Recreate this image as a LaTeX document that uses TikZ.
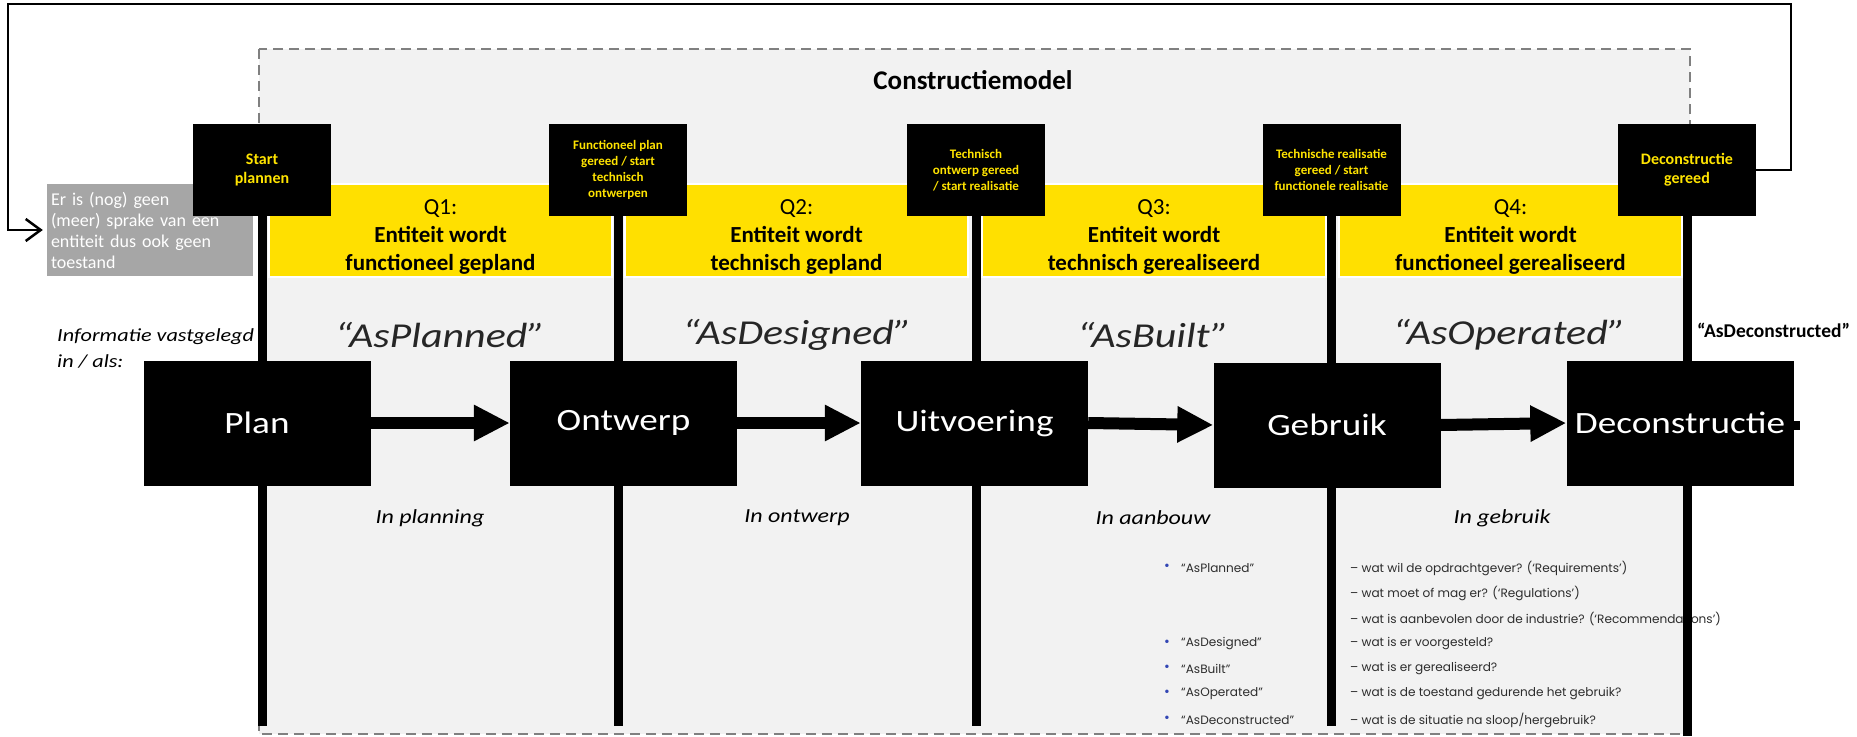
\documentclass[tikz,border=0pt]{standalone}
\usepackage{fontspec}
\setmainfont{Carlito}
\newfontfamily\stretchfont[FakeStretch=1.2]{Carlito}
\newfontfamily\listfont{Poppins}
\usetikzlibrary{arrows.meta}
\definecolor{bandyellow}{RGB}{255,224,0}
\definecolor{mstext}{RGB}{255,228,0}
\definecolor{panelgrey}{RGB}{242,242,242}
\definecolor{dashgrey}{RGB}{128,128,128}
\definecolor{infogrey}{RGB}{166,166,166}
\definecolor{bulletblue}{RGB}{50,70,180}
\definecolor{listgrey}{RGB}{45,45,45}
\begin{document}
\begin{tikzpicture}[x=1pt,y=-1pt,
  milestone/.style={fill=black, minimum width=138pt, minimum height=92pt, inner sep=0pt,
    text=mstext, align=center, font=\bfseries\fontsize{13}{16}\selectfont},
  milestonebig/.style={milestone, font=\bfseries\fontsize{16}{19}\selectfont},
  phasebox/.style={fill=black, minimum width=227pt, minimum height=125pt, inner sep=0pt,
    text=white, font=\stretchfont\fontsize{31}{36}\selectfont},
  band/.style={fill=bandyellow, draw=white, line width=2.5pt},
  bandtext/.style={align=center, inner sep=0pt, font=\fontsize{23}{28}\selectfont},
  timeline/.style={line width=9pt, draw=black},
  flowarrow/.style={line width=12pt, -{Triangle[length=36pt,width=34pt]}},
  aslabel/.style={inner sep=0pt, text=black!85, font=\stretchfont\itshape\fontsize{35}{40}\selectfont},
  statelabel/.style={inner sep=0pt, font=\stretchfont\itshape\fontsize{20}{24}\selectfont},
  infobox/.style={fill=infogrey, text=white, align=left, text width=198pt, inner sep=4pt,
    minimum height=92pt, font=\fontsize{18}{21}\selectfont},
  loopline/.style={line width=2.5pt, draw=black, -{Straight Barb[length=15pt,width=22pt]}, shorten >=4pt},
  listitem/.style={anchor=west, inner sep=0pt, text=listgrey, font=\listfont\fontsize{12.1}{15}\selectfont},
  bulletmark/.style={inner sep=0pt, text=bulletblue, font=\listfont\fontsize{14}{14}\selectfont}
]
\useasboundingbox (0,0) rectangle (1857,736);

% Panel
\draw[fill=panelgrey, draw=dashgrey, line width=2.5pt, dash pattern=on 10pt off 6pt]
  (259,49) rectangle (1690,734);
\node[font=\bfseries\fontsize{27}{32}\selectfont, inner sep=0pt] (title) at (973,80) {Constructiemodel};

% Yellow bands
\path[band] (269,184) rectangle (612,277);
\path[band] (625,184) rectangle (968,277);
\path[band] (982,184) rectangle (1326,277);
\path[band] (1339,184) rectangle (1682,277);
\node[bandtext] (q1) at (440.5,237) {Q1:\\\textbf{Entiteit wordt}\\\textbf{functioneel gepland}};
\node[bandtext] (q2) at (796.5,237) {Q2:\\\textbf{Entiteit wordt}\\\textbf{technisch gepland}};
\node[bandtext] (q3) at (1154,237) {Q3:\\\textbf{Entiteit wordt}\\\textbf{technisch gerealiseerd}};
\node[bandtext] (q4) at (1510.5,237) {Q4:\\\textbf{Entiteit wordt}\\\textbf{functioneel gerealiseerd}};

% Grey info box
\node[infobox] (info) at (150,230) {Er is (nog) geen\\(meer) sprake van een\\entiteit dus ook geen\\toestand};

% Bottom list (drawn before the time lines)
\node[bulletmark] (b1) at (1167,567) {•};
\node[bulletmark] (b2) at (1167,643) {•};
\node[bulletmark] (b3) at (1167,668) {•};
\node[bulletmark] (b4) at (1167,693) {•};
\node[bulletmark] (b5) at (1167,719) {•};
\node[listitem] (l1) at (1181,568) {“AsPlanned”};
\node[listitem] (l2) at (1181,644) {“AsDesigned”};
\node[listitem] (l3) at (1181,669) {“AsBuilt”};
\node[listitem] (l4) at (1181,694) {“AsOperated”};
\node[listitem] (l5) at (1181,720) {“AsDeconstructed”};
\node[listitem] (d1) at (1350,568) {– wat wil de opdrachtgever? (‘Requirements’)};
\node[listitem] (d2) at (1350,593) {– wat moet of mag er? (‘Regulations’)};
\node[listitem] (d3) at (1350,619) {– wat is aanbevolen door de industrie? (‘Recommendations’)};
\node[listitem] (d4) at (1350,644) {– wat is er voorgesteld?};
\node[listitem] (d5) at (1350,669) {– wat is er gerealiseerd?};
\node[listitem] (d6) at (1350,694) {– wat is de toestand gedurende het gebruik?};
\node[listitem] (d7) at (1350,720) {– wat is de situatie na sloop/hergebruik?};

% Milestone boxes
\node[milestonebig] (ms1) at (262,170) {Start\\plannen};
\node[milestone] (ms2) at (618,170) {Functioneel plan\\gereed / start\\technisch\\ontwerpen};
\node[milestone] (ms3) at (976,170) {Technisch\\ontwerp gereed\\/ start realisatie};
\node[milestone] (ms4) at (1331.5,170) {Technische realisatie\\gereed / start\\functionele realisatie};
\node[milestonebig] (ms5) at (1687,170) {Deconstructie\\gereed};

% Time lines
\coordinate (e1) at (262,726);
\coordinate (e2) at (618,726);
\coordinate (e3) at (976,726);
\coordinate (e4) at (1331.5,726);
\coordinate (e5) at (1687,736);
\draw[timeline] (ms1.south) -- (e1);
\draw[timeline] (ms2.south) -- (e2);
\draw[timeline] (ms3.south) -- (e3);
\draw[timeline] (ms4.south) -- (e4);
\draw[timeline] (ms5.south) -- (e5);

% Labels
\node[anchor=west, align=left, inner sep=0pt, font=\stretchfont\itshape\fontsize{18.5}{26}\selectfont] (info2) at (57,348) {Informatie vastgelegd\\in / als:};
\node[aslabel] (as1) at (440,335) {“AsPlanned”};
\node[aslabel] (as2) at (797,335) {“AsDesigned”};
\node[aslabel] (as3) at (1153,335) {“AsBuilt”};
\node[aslabel] (as4) at (1509,335) {“AsOperated”};
\node[anchor=west, inner sep=0pt, font=\bfseries\fontsize{19.5}{23}\selectfont] (as5) at (1697,330) {“AsDeconstructed”};
\node[statelabel] (s1) at (430,518) {In planning};
\node[statelabel] (s2) at (797,518) {In ontwerp};
\node[statelabel] (s3) at (1153,518) {In aanbouw};
\node[statelabel] (s4) at (1502,518) {In gebruik};

% Phase boxes
\node[phasebox] (plan) at (257,423) {Plan};
\node[phasebox] (ontwerp) at (623.5,423) {Ontwerp};
\node[phasebox] (uitvoering) at (974.5,423) {Uitvoering};
\node[phasebox] (gebruik) at (1327,425) {Gebruik};
\node[phasebox] (decon) at (1680,423) {Deconstructie};
\draw[flowarrow] (plan.east) -- (ontwerp.west);
\draw[flowarrow] (ontwerp.east) -- (uitvoering.west);
\draw[flowarrow] (uitvoering.east) -- (gebruik.west);
\draw[flowarrow] (gebruik.east) -- (decon.west);
\coordinate (stub) at (1800,425);
\draw[line width=9pt] (decon.east |- stub) -- (stub);

% Loop connector
\coordinate (lp1) at (1791,170);
\coordinate (lp2) at (1791,4);
\coordinate (lp3) at (8,4);
\coordinate (lp4) at (8,230);
\draw[loopline] (ms5.east) -- (lp1) -- (lp2) -- (lp3) -- (lp4) -- (info.west);
\end{tikzpicture}
\end{document}
